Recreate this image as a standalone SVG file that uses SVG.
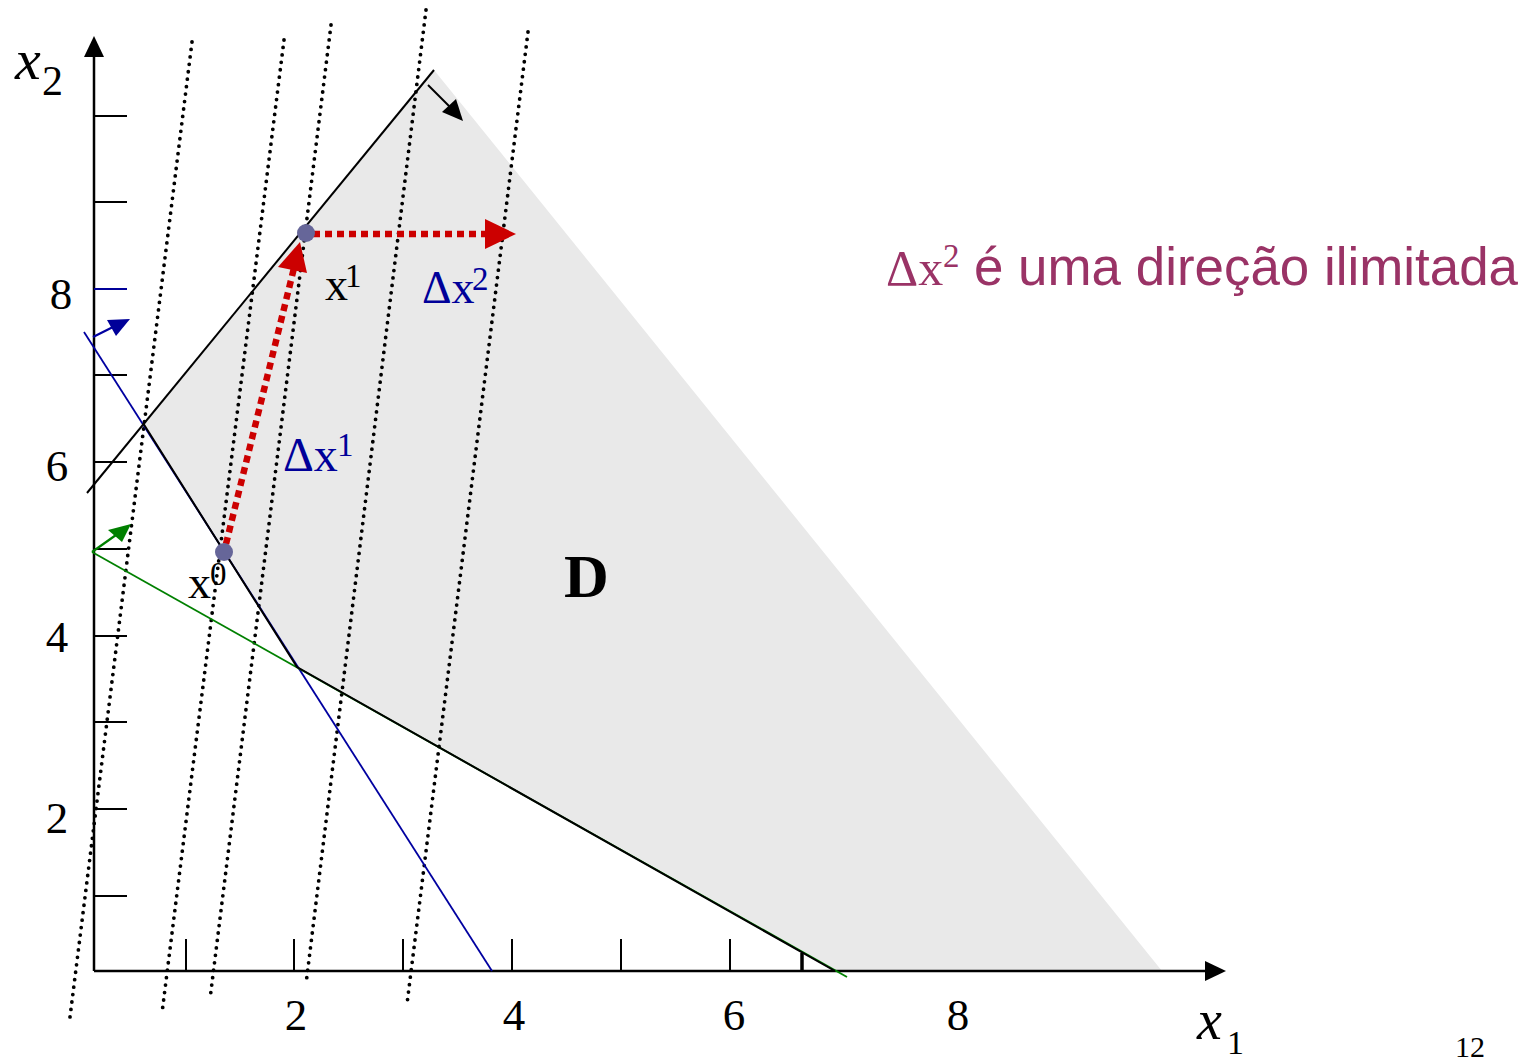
<svg xmlns="http://www.w3.org/2000/svg" width="1531" height="1062" viewBox="0 0 1531 1062">
<style>
.ax{stroke:#000;stroke-width:2.5;fill:none}
.tk{stroke:#000;stroke-width:2;fill:none}
.dot{stroke:#000;stroke-width:3.8;stroke-dasharray:0 7.5;stroke-linecap:round;fill:none}
.red{stroke:#cc0000;stroke-width:6.5;stroke-dasharray:7 5;fill:none}
.serif{font-family:"Liberation Serif","Times New Roman",serif}
.num{font-family:"Liberation Serif","Times New Roman",serif;font-size:45px;fill:#000;text-anchor:middle}
.pt{fill:#666699}
</style>
<rect width="1531" height="1062" fill="#fff"/>
<g id="region-D">
<polygon points="434,70 1162,971 833,971 297,667 143,423" fill="#e9e9e9"/>
</g>
<g id="axes">
<line class="ax" x1="94" y1="971" x2="94" y2="52"/>
<polygon points="94,36 84,57 104,57" fill="#000"/>
<line class="ax" x1="94" y1="971" x2="1208" y2="971"/>
<polygon points="1226,971 1205,961 1205,981" fill="#000"/>
<g id="y-ticks">
<line class="tk" x1="94" y1="116" x2="127" y2="116"/>
<line class="tk" x1="94" y1="202" x2="127" y2="202"/>
<line x1="94" y1="289" x2="127" y2="289" stroke="#000099" stroke-width="2"/>
<line class="tk" x1="94" y1="375" x2="127" y2="375"/>
<line class="tk" x1="94" y1="462" x2="127" y2="462"/>
<line class="tk" x1="94" y1="549" x2="127" y2="549"/>
<line class="tk" x1="94" y1="636" x2="127" y2="636"/>
<line class="tk" x1="94" y1="722" x2="127" y2="722"/>
<line class="tk" x1="94" y1="809" x2="127" y2="809"/>
<line class="tk" x1="94" y1="896" x2="127" y2="896"/>
</g>
<g id="x-ticks">
<line class="tk" x1="186" y1="939" x2="186" y2="971"/>
<line class="tk" x1="294" y1="939" x2="294" y2="971"/>
<line class="tk" x1="403" y1="939" x2="403" y2="971"/>
<line class="tk" x1="512" y1="939" x2="512" y2="971"/>
<line class="tk" x1="621" y1="939" x2="621" y2="971"/>
<line class="tk" x1="730" y1="939" x2="730" y2="971"/>
<line x1="802" y1="953" x2="802" y2="971" stroke="#000" stroke-width="3.5"/>
</g>
<g id="axis-labels">
<text class="num" x="61" y="309">8</text>
<text class="num" x="57" y="481">6</text>
<text class="num" x="57" y="652">4</text>
<text class="num" x="57" y="833">2</text>
<text class="num" x="296" y="1030">2</text>
<text class="num" x="514" y="1030">4</text>
<text class="num" x="734" y="1030">6</text>
<text class="num" x="958" y="1030">8</text>
<text class="serif" x="15" y="79" font-size="58" font-style="italic">x</text>
<text class="serif" x="42" y="95" font-size="42">2</text>
<text class="serif" x="1197" y="1039" font-size="56" font-style="italic">x</text>
<text class="serif" x="1227" y="1054" font-size="34">1</text>
</g>
</g>
<g id="iso-lines">
<line class="dot" x1="192" y1="42" x2="70" y2="1017"/>
<line class="dot" x1="284" y1="40" x2="162" y2="1013"/>
<line class="dot" x1="331" y1="25" x2="210" y2="999"/>
<line class="dot" x1="426" y1="10" x2="306" y2="984"/>
<line class="dot" x1="528" y1="32" x2="407" y2="1004"/>
</g>
<g id="constraints">
<line x1="84" y1="332" x2="492" y2="971" stroke="#0000a0" stroke-width="1.8"/>
<line x1="92" y1="552" x2="847" y2="977" stroke="#008000" stroke-width="1.8"/>
<line x1="87" y1="493" x2="434" y2="70" stroke="#000" stroke-width="2"/>
<polyline points="143,423 297,667 835,971" fill="none" stroke="#000" stroke-width="2"/>
<line x1="93" y1="337" x2="115" y2="326" stroke="#0000a0" stroke-width="2.2"/>
<polygon points="130,319 107,320 116,336" fill="#000099"/>
<line x1="92" y1="552" x2="116" y2="535" stroke="#008000" stroke-width="2.2"/>
<polygon points="131,524 108,530 122,542" fill="#008000"/>
<line x1="428" y1="85" x2="450" y2="107" stroke="#000" stroke-width="2"/>
<polygon points="463,121 442,112 456,99" fill="#000"/>
</g>
<g id="connectors">
<line class="red" x1="226" y1="544" x2="294" y2="268"/>
<polygon points="300,242 278,267 307,273" fill="#cc0000"/>
<line class="red" x1="313" y1="234" x2="487" y2="234"/>
<polygon points="516,234 485,219 485,249" fill="#cc0000"/>
</g>
<g id="node-x0">
<circle class="pt" cx="224" cy="552" r="9"/>
<text class="serif" x="188" y="598" font-size="46">x</text>
<text class="serif" x="210" y="585" font-size="33">0</text>
</g>
<g id="node-x1">
<circle class="pt" cx="306" cy="233" r="9"/>
<text class="serif" x="325" y="300" font-size="46">x</text>
<text class="serif" x="345" y="287" font-size="33">1</text>
</g>
<g id="label-dx1">
<text class="serif" x="283" y="471" font-size="48" fill="#000099">Δx</text>
<text class="serif" x="337" y="456" font-size="33" fill="#000099">1</text>
</g>
<g id="label-dx2">
<text class="serif" x="422" y="303" font-size="46" fill="#000099">Δx</text>
<text class="serif" x="472" y="290" font-size="33" fill="#000099">2</text>
</g>
<g id="label-D">
<text class="serif" x="564" y="597" font-size="62" font-weight="bold">D</text>
</g>
<g id="note">
<text class="serif" x="886" y="285" font-size="50" fill="#9a3366">Δx</text>
<text class="serif" x="943" y="267" font-size="33" fill="#9a3366">2</text>
<text x="974" y="285" font-family="'Liberation Sans',Arial,sans-serif" font-size="53" fill="#9a3366" textLength="544" lengthAdjust="spacingAndGlyphs">é uma direção ilimitada</text>
</g>
<text class="serif" x="1455" y="1057" font-size="30">12</text>
</svg>
